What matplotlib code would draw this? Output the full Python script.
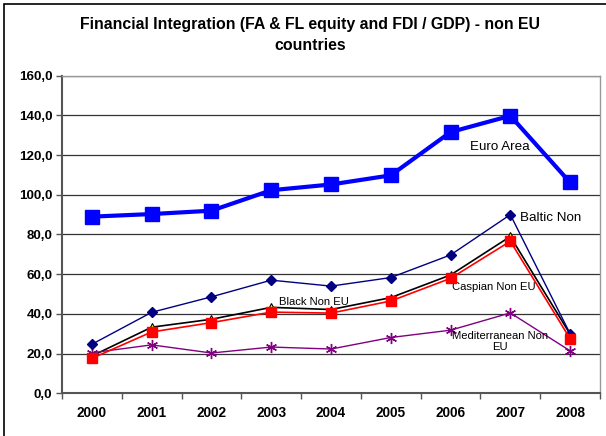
import matplotlib
matplotlib.use("Agg")
import matplotlib.pyplot as plt
from matplotlib.patches import Rectangle
from matplotlib.ticker import FuncFormatter, FixedLocator

years = ["2000", "2001", "2002", "2003", "2004", "2005", "2006", "2007", "2008"]
euro_area = [89.0, 90.3, 92.0, 102.3, 105.2, 109.8, 131.6, 139.8, 106.2]
baltic = [24.7, 40.8, 48.6, 57.0, 54.0, 58.3, 69.7, 90.0, 30.0]
black = [18.8, 33.3, 37.3, 43.3, 42.2, 48.2, 59.6, 79.0, 29.8]
caspian = [17.6, 30.9, 35.6, 40.9, 40.4, 46.5, 57.9, 76.6, 27.5]
mediterranean = [20.4, 24.4, 20.3, 23.3, 22.3, 28.1, 31.8, 40.5, 21.4]

title = "Financial Integration (FA & FL equity and FDI / GDP) - non EU\ncountries"

plt.rcParams['font.family'] = ['Liberation Sans', 'DejaVu Sans']

fig = plt.figure(figsize=(6.06, 4.36), dpi=100)
ax = fig.add_axes([62/606, 1-393.3/436, (600-62)/606, (393.3-75.7)/436])

x = list(range(len(years)))

ax.plot(x, euro_area, color='#0000FF', lw=3, marker='s', ms=10.5, mfc='#0000FF', mec='#0000FF', zorder=5)
ax.plot(x, baltic, color='#000080', lw=1, marker='D', ms=5, mfc='#000080', mec='#000080', zorder=4)
ax.plot(x, black, color='black', lw=1.2, marker='^', ms=6, mfc='#FFFF00', mec='black', mew=0.8, zorder=3)
ax.plot(x, caspian, color='#FF0000', lw=1.2, marker='s', ms=6.5, mfc='#FF0000', mec='#FF0000', zorder=4)
ax.plot(x, mediterranean, color='#800080', lw=1, marker=(6, 2, 0), ms=8, mec='#800080', mew=1, zorder=3)

ax.set_xlim(-0.5, len(years) - 0.5)
ax.set_ylim(0, 160)
ax.set_yticks(range(0, 161, 20))
ax.yaxis.set_major_formatter(FuncFormatter(lambda v, p: f"{v:.1f}".replace('.', ',')))
ax.set_xticks(x)
ax.set_xticklabels(years)
ax.xaxis.set_minor_locator(FixedLocator([i + 0.5 for i in range(-1, len(years))]))
ax.tick_params(axis='x', which='major', length=0, pad=9, labelsize=9.8)
ax.tick_params(axis='x', which='minor', length=4, width=1, color='#555555', direction='out')
ax.tick_params(axis='y', length=4, width=1, color='#555555', pad=3, labelsize=9.6)
for lab in ax.get_xticklabels() + ax.get_yticklabels():
    lab.set_fontweight('bold')

ax.grid(axis='y', color='#333333', lw=0.9, zorder=0)
ax.set_axisbelow(True)
for s in ['left', 'bottom']:
    ax.spines[s].set_color('#555555')
    ax.spines[s].set_linewidth(1.5)
for s in ['top', 'right']:
    ax.spines[s].set_color('#999999')
    ax.spines[s].set_linewidth(1)

ax.text(6.83, 124.1, "Euro Area", ha='center', va='center', fontsize=9.6)
ax.text(7.17, 88.3, "Baltic Non", ha='left', va='center', fontsize=9.6)
ax.text(3.72, 46.0, "Black Non EU", ha='center', va='center', fontsize=8.1)
ax.text(6.73, 53.4, "Caspian Non EU", ha='center', va='center', fontsize=8.1)
ax.text(6.83, 26.1, "Mediterranean Non\nEU", ha='center', va='center', fontsize=8.1, linespacing=1.1)

fig.text(310/606, 1-35/436, title, ha='center', va='center', fontsize=11.4, fontweight='bold', linespacing=1.45)

fig.patches.append(Rectangle((4/606, -0.1), 1.2, 1-4/436+0.1, transform=fig.transFigure,
                             fill=False, edgecolor='black', lw=1.2))

fig.savefig("out.png", dpi=100)
